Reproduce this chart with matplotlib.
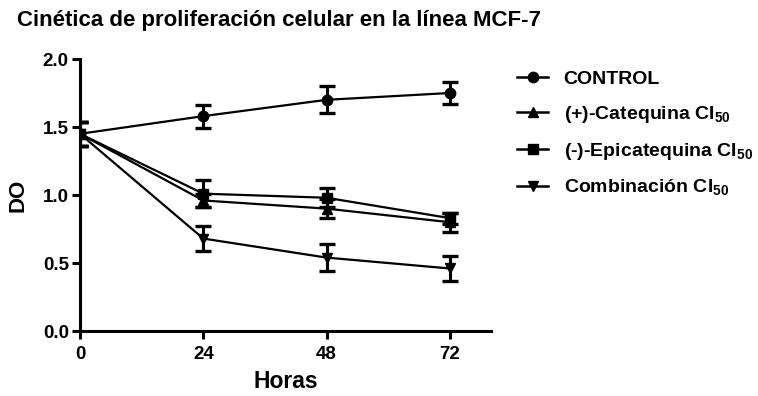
import matplotlib.pyplot as plt
import numpy as np

plt.rcParams['font.family'] = ['Liberation Sans', 'DejaVu Sans']
plt.rcParams['font.weight'] = 'bold'
plt.rcParams['mathtext.fontset'] = 'custom'
plt.rcParams['mathtext.rm'] = 'Liberation Sans:bold'
plt.rcParams['mathtext.bf'] = 'Liberation Sans:bold'

horas = [0, 24, 48, 72]
control = [1.45, 1.58, 1.70, 1.75]
control_err = [0.09, 0.085, 0.10, 0.08]
catequina = [1.45, 0.96, 0.90, 0.80]
catequina_err = [0.09, 0.05, 0.07, 0.07]
epicatequina = [1.45, 1.01, 0.98, 0.83]
epicatequina_err = [0.09, 0.10, 0.07, 0.04]
combinacion = [1.45, 0.68, 0.54, 0.46]
combinacion_err = [0.09, 0.09, 0.10, 0.095]

labels = ['CONTROL', r'(+)-Catequina CI$_{50}$',
          r'(-)-Epicatequina CI$_{50}$', r'Combinación CI$_{50}$']
markers = ['o', '^', 's', 'v']

fig = plt.figure(figsize=(7.58, 3.96), dpi=100)
ax = fig.add_axes([0.1055, 0.164, 0.5423, 0.687])

series = [(control, control_err), (catequina, catequina_err),
          (epicatequina, epicatequina_err), (combinacion, combinacion_err)]
for (y, e), m, lab in zip(series, markers, labels):
    ax.errorbar(horas, y, yerr=e, color='black', marker=m, markersize=7.5,
                linewidth=1.6, elinewidth=2.2, capsize=5.5, capthick=2.4,
                label=lab)

ax.set_xlim(0, 80)
ax.set_ylim(0, 2.0)
ax.set_xticks(horas)
ax.set_yticks([0.0, 0.5, 1.0, 1.5, 2.0])
ax.set_yticklabels(['0.0', '0.5', '1.0', '1.5', '2.0'])
for s in ['top', 'right']:
    ax.spines[s].set_visible(False)
for s in ['left', 'bottom']:
    ax.spines[s].set_linewidth(2.2)
ax.tick_params(direction='out', width=2.2, length=6, labelsize=13.5, pad=2)
ax.tick_params(axis='x', pad=5)
ax.set_xlabel('Horas', fontsize=16.5, fontweight='bold', labelpad=5)
ax.set_ylabel('DO', fontsize=16, fontweight='bold', labelpad=10)

fig.text(0.022, 0.948, 'Cinética de proliferación celular en la línea MCF-7',
         fontsize=16, fontweight='bold', va='center')

leg_handles = [plt.Line2D([], [], color='black', marker=m, markersize=7.5,
                          linewidth=1.8) for m in markers]
fig.legend(leg_handles, labels, loc='upper left', bbox_to_anchor=(0.682, 0.822),
           frameon=False, labelspacing=0.82, handlelength=1.6,
           handletextpad=0.8, borderpad=0, borderaxespad=0,
           prop={'weight': 'bold', 'size': 14})

plt.savefig('out.png', dpi=100)
